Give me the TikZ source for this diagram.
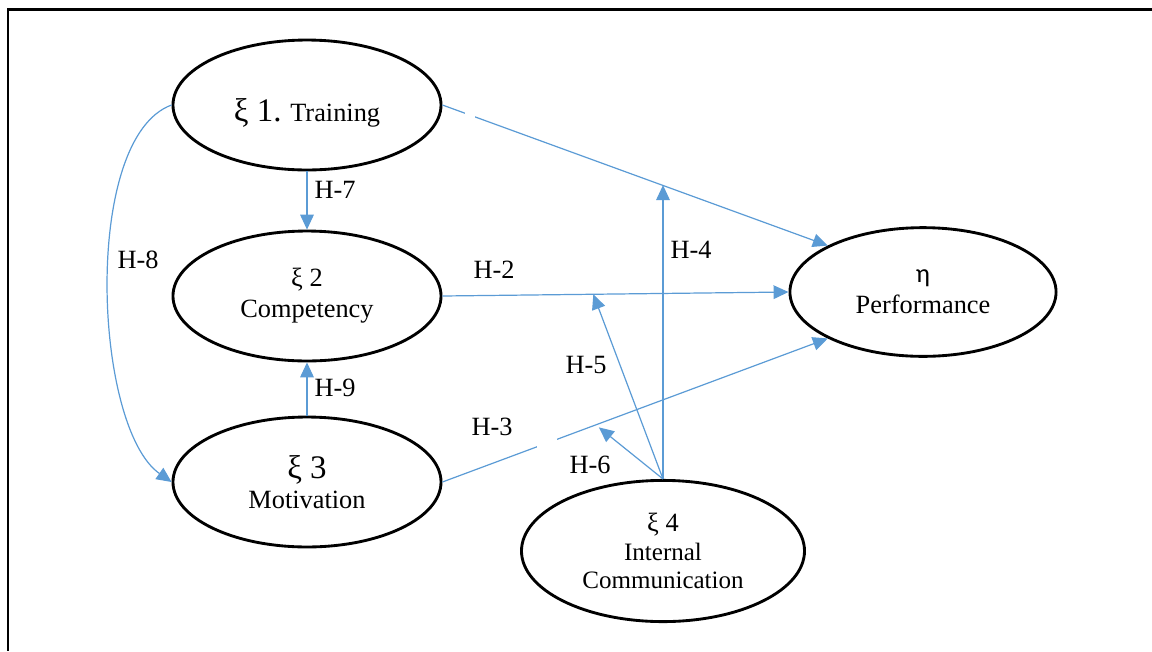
\documentclass[tikz,border=0pt]{standalone}
\usepackage{fontspec}
\setmainfont{Liberation Serif}
\newfontfamily\etafont{Carlito}
\usetikzlibrary{shapes.geometric,arrows.meta}
\definecolor{linkblue}{HTML}{5B9BD5}

\begin{document}
\begin{tikzpicture}[x=0.016cm,y=-0.016cm,
	var/.style={ellipse,draw,line width=1.3pt,inner sep=0pt,align=center,
		minimum width=4.29cm,minimum height=2.08cm,font=\fontsize{12}{14}\selectfont},
	link/.style={linkblue,line width=0.55pt,-{Triangle[length=6.8pt,width=6.2pt]}},
	hyp/.style={font=\fontsize{12}{14}\selectfont}]
	\useasboundingbox (0,0) rectangle (1152,651);
	\draw[line width=1pt] (1152,9.5)--(8,9.5)--(8,651);

	% latent variables
	\node[var,text height=18.5pt,text depth=3.3pt] at (307,105)(tr){{\fontsize{15}{16}\selectfont ξ 1.} Training};
	\node[var] at (307,296)(ce){ξ 2\\Competency};
	\node[var] at (307,482)(mo){{\fontsize{15}{16}\selectfont ξ 3}\\Motivation};
	\node[var,minimum width=4.26cm,minimum height=2.06cm] at (923,292)(pe){{\etafont η}\\Performance};
	\node[var,minimum width=4.53cm,minimum height=2.26cm,font=\fontsize{11.4}{13}\selectfont] at (663,551)(ic){{\fontsize{12}{14}\selectfont ξ 4}\\Internal\\Communication};

	% paths
	\path[link] (tr.south)edge(ce.north) (mo.north)edge(ce.south);
	\draw[link] (ce.east) -- coordinate[pos=0.436](m2) (pe.west);
	\draw[link] (tr.east) -- coordinate[pos=0.57](m1) (pe.154);
	\draw[link] (mo.east) -- coordinate[pos=0.398](m3) (pe.206);
	\draw[link] (tr.west) to[out=200,in=145,looseness=0.65] (mo.west);

	% moderating effects of internal communication
	\draw[link] (ic.north) -- (ic.north |- m1);
	\draw[link] (ic.north) -- (m2);
	\draw[link,shorten >=1.8pt] (ic.north) -- (m3);

	\fill[white] (465,111) rectangle (475,121);
	\fill[white] (536.5,436.5) rectangle (556.5,448.5);

	% hypotheses
	\node[hyp] at (335,190)(h7){H-7};
	\node[hyp] at (138,260)(h8){H-8};
	\node[hyp] at (335,388)(h9){H-9};
	\node[hyp] at (494,270)(h2){H-2};
	\node[hyp] at (691,250)(h4){H-4};
	\node[hyp] at (586,365)(h5){H-5};
	\node[hyp] at (492,427)(h3){H-3};
	\node[hyp] at (590,465)(h6){H-6};
\end{tikzpicture}
\end{document}
